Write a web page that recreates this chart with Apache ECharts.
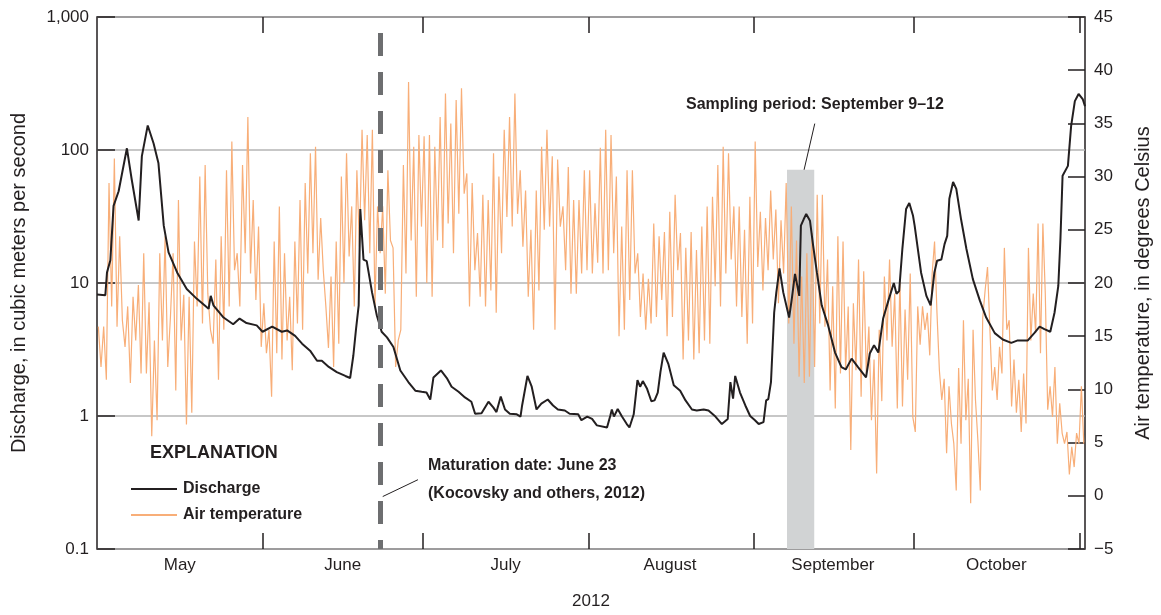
<!DOCTYPE html>
<html><head><meta charset="utf-8">
<script src="https://cdn.jsdelivr.net/npm/echarts@6/dist/echarts.min.js"></script>
<style>html,body{margin:0;padding:0;background:#fff}#c{width:1161px;height:615px}</style>
</head><body><div id="c"></div>
<script>
// Day offsets are counted from May 1, 2012 00:00.
const monthLabels = ['May', 'June', 'July', 'August', 'September', 'October'];
const monthTickDays = [31, 61, 92, 123, 153, 184];
const monthLabelDays = [15.5, 46, 76.5, 107.3, 137.8, 168.4];
const axisEndDay = 185;
const maturationDay = 53;            // June 23
const samplingBand = [129.2, 134.3]; // shaded sampling period
const samplingBandTop = 71;
const leftTicks = ['0.1', '1', '10', '100', '1,000'];

// Discharge, cubic meters per second
const dischargeDay = [0,1.56,1.87,2.5,3.1,4.05,4.67,5.6,6.5,7.8,8.4,9.5,10.6,11.5,12.5,13.4,15.0,16.8,18.7,20.9,21.3,21.8,23.7,25.5,26.7,28.0,29.9,
  31.0,32.8,34.6,35.6,37.1,38.4,39.9,41.2,42.1,43.4,44.9,46.5,47.4,48.0,48.5,49.0,49.3,49.9,50.5,51.5,52.4,53.3,54.3,55.5,56.8,58.3,59.6,60.8,
  61.7,62.4,63.0,64.4,65.5,66.4,67.7,68.9,70.1,70.8,72.0,73.3,74.2,74.8,75.6,76.4,77.3,78.6,79.3,79.6,80.6,81.4,82.3,83.2,84.4,85.4,86.3,87.6,88.5,90.1,90.7,
  91.8,92.7,93.6,95.5,96.1,96.4,96.8,97.5,98.3,99.2,99.7,100.5,100.8,101.2,101.7,102.2,103.0,103.8,104.4,105.0,105.5,106.1,107.0,108.0,109.2,110.2,111.4,112.3,113.6,114.5,115.8,117.0,118.1,118.6,119.1,119.5,120.4,121.4,
  122.3,123.2,123.9,124.8,125.3,125.7,126.2,126.5,126.8,127.2,127.8,128.5,129.6,130.1,130.7,131.5,131.8,132.3,132.8,133.5,134.1,134.8,135.7,136.9,138.2,139.4,140.2,141.3,142.5,144.0,144.7,145.5,146.3,147.2,148.2,149.2,149.7,150.2,150.8,151.5,152.1,152.8,
  153.1,154.3,155.3,156.1,156.8,157.3,158.1,158.7,159.2,159.6,160.3,160.9,161.8,162.8,164.0,165.3,166.5,168.1,169.6,171.2,172.4,174.3,175.5,176.5,177.4,178.5,179.3,180.0,180.4,180.8,181.8,182.4,183.1,183.8,184.6,185.0];
const dischargeCms = [8.2,8.1,12,14.8,38,49,66,103,60,29.5,90,153,112,80,27,17,12,9.0,7.6,6.4,8.0,6.8,5.5,4.9,5.4,5.0,4.8,
  4.3,4.7,4.3,4.4,4.0,3.5,3.1,2.6,2.6,2.34,2.14,2.0,1.93,2.85,4.5,6.8,36,15,14.6,8.5,5.7,4.3,3.9,3.3,2.2,1.8,1.55,1.52,
  1.5,1.33,1.95,2.2,1.93,1.66,1.52,1.38,1.28,1.04,1.05,1.28,1.16,1.07,1.4,1.12,1.04,1.03,0.99,1.2,2.0,1.66,1.12,1.24,1.33,1.2,1.12,1.1,1.04,1.03,0.93,
  0.99,0.95,0.85,0.82,1.0,1.12,0.99,1.13,0.99,0.87,0.82,1.03,1.05,1.86,1.66,1.83,1.6,1.29,1.31,1.5,2.14,3.0,2.45,1.7,1.55,1.31,1.12,1.1,1.12,1.1,0.99,0.87,0.95,1.8,1.35,2.0,1.5,1.2,
  1.0,0.93,0.87,0.9,1.31,1.34,1.8,1.86,6.0,8.5,12.9,8.5,5.5,7.6,11.7,8.0,27,30,33,29.4,19,12,6.8,4.8,3.0,2.33,2.24,2.7,2.33,1.95,2.95,3.4,3.0,5.4,7.4,10,8.3,8.7,18,36,40,32,
  27,12,8,6.8,12,14.7,15,19.6,22.6,43,57.5,51,30,18,10.7,7.4,5.5,4.2,3.76,3.55,3.7,3.7,4.2,4.7,4.5,4.3,6.0,9.5,21.4,64,76,151,233,264,240,213];

// Air temperature, degrees Celsius (readings spread evenly through each month)
const tempMay = [15.9,12.1,15.9,10.9,29.4,17.8,31.7,15.9,24.4,16.5,14.0,17.8,10.6,18.7,14.6,19.8,11.5,22.8,11.5,18.2,5.6,14.6,7.1,22.8,14.6,24.4,12.1,16.8,22.8,9.9,27.8,14.6,18.9,6.7,18.7,7.8,23.9,17.8,30.0,16.2,31.1,19.0,15.6,14.3,22.2,10.9,24.4,15.6,30.6,17.8,33.3,21.2,22.8,17.8,31.1,22.8,35.6,20.9,27.8,18.4,25.3,14.0];
const tempJun = [18.1,13.4,15.6,9.3,23.9,13.4,27.2,12.8,22.8,14.6,18.7,11.8,23.9,16.2,27.8,15.6,29.4,20.9,32.2,22.8,32.8,20.3,26.1,21.2,17.8,13.9,20.6,12.1,23.9,14.3,30.0,20.0,32.2,22.5,27.2,17.8,30.6,23.4,34.4,25.9,33.9,22.8,34.4,17.8,27.2,22.8,27.2,19.0,30.6,24.0,23.3,12.1,14.6,15.6,31.1,20.9,38.9,24.0,32.8,18.7,33.9,25.3];
const tempJul = [33.8,20.0,33.9,18.7,32.8,24.0,35.6,23.3,37.8,25.6,35.0,22.8,37.2,26.5,38.3,28.4,30.3,17.8,29.4,21.2,24.7,18.7,28.3,17.8,27.8,19.3,32.2,17.2,30.0,22.8,34.4,26.2,35.6,25.3,37.8,26.5,30.6,23.4,28.7,18.7,25.0,15.6,28.7,19.3,32.8,25.0,34.4,25.3,31.9,15.6,31.6,25.3,27.2,21.2,30.9,19.0,27.8,19.0,27.8,20.9,30.6,21.2];
const tempAug = [30.6,20.9,27.5,21.9,32.7,20.9,34.4,21.2,33.9,22.8,30.0,15.0,25.3,15.6,30.6,18.4,30.6,20.9,22.8,16.8,20.9,15.6,20.4,16.2,25.6,16.8,24.4,18.4,24.8,15.0,26.7,16.8,28.3,21.2,24.7,12.8,23.3,14.6,24.8,12.8,23.1,13.4,25.3,14.6,27.2,14.3,28.1,19.7,31.1,17.8,32.8,20.9,32.2,22.2,27.2,17.8,27.2,16.8,25.0,14.3,28.1,16.2];
const tempSep = [33.3,21.5,26.7,19.3,26.1,21.2,28.7,22.2,26.9,18.1,25.9,20.9,29.4,16.2,27.2,14.3,24.0,11.2,20.6,10.6,22.8,11.2,24.7,12.1,28.3,16.2,28.3,15.9,22.2,9.9,19.7,8.2,24.4,11.5,23.9,11.8,17.8,4.3,18.1,11.8,22.2,9.3,21.1,11.5,15.9,7.1,12.8,2.1,15.6,8.9,20.6,14.6,22.2,14.0,19.0,8.2,20.3,8.4,17.5,10.9,20.9,7.4];
const tempOct = [6.0,17.8,14.2,17.8,15.6,17.2,13.2,20.9,23.9,17.2,11.8,9.0,11.0,4.0,10.3,6.8,4.9,0.5,12.0,4.9,16.5,7.1,11.0,-0.7,15.6,9.0,5.2,0.5,16.7,19.3,21.5,15.6,9.9,12.1,9.0,14.0,11.5,23.3,15.6,16.5,8.4,12.8,7.8,10.9,6.0,11.5,6.8,23.3,14.6,19.0,15.3,25.6,13.4,25.6,19.0,8.1,10.3,7.4,12.1,4.9,8.7,5.9,4.9,6.0,2.0,4.6,2.7,5.9,4.9,10.3,4.9];

const FONT = "'Liberation Sans', Arial, sans-serif";
const INK = '#231f20';
const TEMP_COLOR = '#f8ae78';

const tempMonths = [tempMay, tempJun, tempJul, tempAug, tempSep, tempOct];
const spanStarts = [0, 31, 61, 92, 123, 153, axisEndDay];
const tempData = [];
tempMonths.forEach((arr, m) => {
  const d0 = spanStarts[m], d1 = spanStarts[m + 1], step = (d1 - d0) / arr.length;
  arr.forEach((v, i) => tempData.push([d0 + (i + 0.5) * step, v]));
});
const dischargeData = dischargeDay.map((d, i) => [d, dischargeCms[i]]);

function monthFor(v) {
  let best = 0;
  monthLabelDays.forEach((d, i) => { if (Math.abs(d - v) < Math.abs(monthLabelDays[best] - v)) best = i; });
  return monthLabels[best];
}
function leftLabel(v) {
  const p = Math.round(Math.log10(v)) + 1;
  return leftTicks[p] !== undefined ? leftTicks[p] : String(v);
}

const chart = echarts.init(document.getElementById('c'), null, { renderer: 'canvas' });
const tickStyle = { color: INK, width: 1.5 };
chart.setOption({
  animation: false,
  textStyle: { fontFamily: FONT },
  grid: { left: 97, right: 75, top: 17, bottom: 66, show: true, borderColor: INK, borderWidth: 1.5, backgroundColor: 'transparent' },
  xAxis: [
    { type: 'value', min: 0, max: axisEndDay, position: 'bottom',
      axisLine: { show: false, onZero: false }, splitLine: { show: false },
      axisTick: { show: true, inside: true, length: 16, customValues: monthTickDays, lineStyle: tickStyle },
      axisLabel: { customValues: monthLabelDays, formatter: monthFor, color: INK, fontSize: 17, margin: 8, fontFamily: FONT },
      name: '2012', nameLocation: 'middle', nameGap: 44,
      nameTextStyle: { color: INK, fontSize: 17, fontFamily: FONT } },
    { type: 'value', min: 0, max: axisEndDay, position: 'top',
      axisLine: { show: false, onZero: false }, splitLine: { show: false },
      axisTick: { show: true, inside: true, length: 16, customValues: monthTickDays, lineStyle: tickStyle },
      axisLabel: { show: false } }
  ],
  yAxis: [
    { type: 'log', logBase: 10, min: 0.1, max: 1000, position: 'left',
      axisLine: { show: false, onZero: false },
      axisTick: { show: true, inside: true, length: 18, lineStyle: tickStyle },
      splitLine: { show: true, lineStyle: { color: '#b4b4b4', width: 1.5 } },
      axisLabel: { formatter: leftLabel, color: INK, fontSize: 17, margin: 8, fontFamily: FONT },
      name: 'Discharge, in cubic meters per second', nameLocation: 'middle', nameGap: 68, nameRotate: 90,
      nameTextStyle: { color: INK, fontSize: 20, fontFamily: FONT } },
    { type: 'value', min: -5, max: 45, interval: 5, position: 'right',
      axisLine: { show: false, onZero: false }, splitLine: { show: false },
      axisTick: { show: true, inside: true, length: 17, lineStyle: tickStyle },
      axisLabel: { formatter: v => (v < 0 ? '\u2212' + Math.abs(v) : String(v)), color: INK, fontSize: 17, margin: 9, fontFamily: FONT },
      name: 'Air temperature, in degrees Celsius', nameLocation: 'middle', nameGap: 48, nameRotate: 90,
      nameTextStyle: { color: INK, fontSize: 20, fontFamily: FONT } }
  ],
  legend: {
    orient: 'vertical', left: 126, top: 476, itemWidth: 46, itemHeight: 2, itemGap: 10, icon: 'rect',
    selectedMode: false, data: ['Discharge', 'Air temperature'],
    textStyle: { color: INK, fontSize: 16, fontWeight: 'bold', fontFamily: FONT, padding: [0, 0, 0, 1] }
  },
  graphic: [
    { type: 'text', left: 150, top: 444, style: { text: 'EXPLANATION', font: 'bold 18px ' + FONT, fill: INK } },
    { type: 'text', left: 428, top: 458, style: { text: 'Maturation date: June 23', font: 'bold 16px ' + FONT, fill: INK } },
    { type: 'text', left: 428, top: 486, style: { text: '(Kocovsky and others, 2012)', font: 'bold 16px ' + FONT, fill: INK } },
    { type: 'text', left: 686, top: 97, style: { text: 'Sampling period: September 9\u201312', font: 'bold 16px ' + FONT, fill: INK } }
  ],
  series: [
    { name: 'band', type: 'line', data: [], z: 1, silent: true, xAxisIndex: 0, yAxisIndex: 0,
      markArea: { silent: true, itemStyle: { color: '#d1d3d4' },
        data: [[{ coord: [samplingBand[0], 0.1] }, { coord: [samplingBand[1], samplingBandTop] }]] } },
    { name: 'Air temperature', type: 'line', data: tempData, xAxisIndex: 0, yAxisIndex: 1, z: 2,
      showSymbol: false, symbol: 'none', color: TEMP_COLOR, lineStyle: { color: TEMP_COLOR, width: 1.2 } },
    { name: 'markers', type: 'line', data: [], z: 3, silent: true, xAxisIndex: 0, yAxisIndex: 0,
      markLine: { silent: true, symbol: ['none', 'none'], label: { show: false },
        lineStyle: { type: [23, 16], dashOffset: 14, color: '#6d6e70', width: 5 },
        data: [
          { xAxis: maturationDay },
          [{ coord: [53.5, 0.248], lineStyle: { type: 'solid', width: 1, color: INK } }, { coord: [60.1, 0.332] }],
          [{ coord: [134.4, 158], lineStyle: { type: 'solid', width: 1, color: INK } }, { coord: [132.4, samplingBandTop] }]
        ] } },
    { name: 'Discharge', type: 'line', data: dischargeData, xAxisIndex: 0, yAxisIndex: 0, z: 4,
      showSymbol: false, symbol: 'none', color: INK, lineStyle: { color: INK, width: 2 } }
  ]
});
</script></body></html>
